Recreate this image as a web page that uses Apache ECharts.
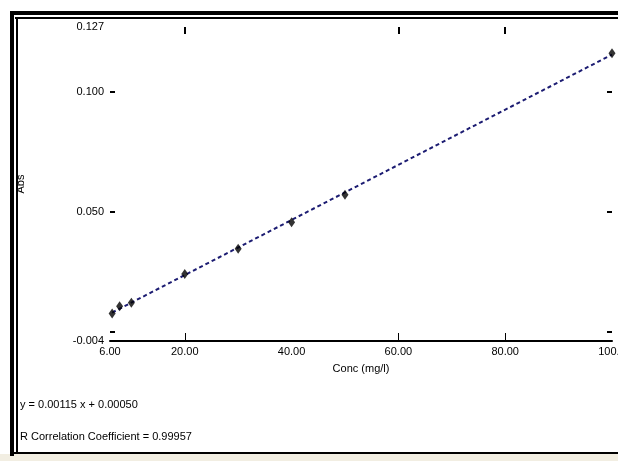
<!DOCTYPE html>
<html>
<head>
<meta charset="utf-8">
<script src="https://cdn.jsdelivr.net/npm/echarts@6/dist/echarts.min.js"></script>
<style>
html,body{margin:0;padding:0;background:#fff;}
#c{width:618px;height:461px;}
</style>
</head>
<body>
<div id="c"></div>
<script>
// Calibration standards
const concValues = [6.4, 7.8, 10, 20, 30, 40, 50, 100];
const absValues = [0.0075, 0.0105, 0.0120, 0.0240, 0.0345, 0.0455, 0.0570, 0.1160];
// Regression
const slope = 0.00115;
const intercept = 0.0005;
const correlation = 0.99957;
// Axis labels
const xTickLabels = [6, 20, 40, 60, 80, 100];
const xTickMarks = [20, 60, 80];
const yTickLabels = [-0.004, 0.05, 0.1, 0.127];
const yTickMarks = [0, 0.05, 0.1];
const xRange = [6, 100];
const yRange = [-0.004, 0.127];

const points = concValues.map((x, i) => [x, absValues[i]]);
const fitX = [concValues[0], concValues[concValues.length - 1]];
const fitLine = fitX.map(x => [x, slope * x + intercept]);

const font = 'Liberation Sans, Arial, sans-serif';
const chart = echarts.init(document.getElementById('c'), null, {renderer: 'canvas'});
chart.setOption({
  backgroundColor: '#ffffff',
  animation: false,
  grid: {left: 110, right: 6, top: 27, bottom: 120, containLabel: false, outerBoundsMode: 'none'},
  xAxis: [{
    type: 'value', min: xRange[0], max: xRange[1], position: 'bottom',
    axisLine: {show: true, onZero: false, lineStyle: {color: '#000', width: 2}},
    axisTick: {show: true, inside: true, length: 8, customValues: xTickMarks, lineStyle: {color: '#000', width: 1}},
    axisLabel: {customValues: xTickLabels, color: '#000', fontSize: 11, fontFamily: font, margin: 5,
      formatter: v => v >= 100 ? v.toFixed(1) : v.toFixed(2)},
    splitLine: {show: false},
    name: 'Conc (mg/l)', nameLocation: 'middle', nameGap: 22,
    nameTextStyle: {color: '#000', fontSize: 11, fontFamily: font}
  }, {
    type: 'value', min: xRange[0], max: xRange[1], position: 'top',
    axisLine: {show: true, onZero: false, lineStyle: {color: 'rgba(0,0,0,0)'}},
    axisTick: {show: true, inside: true, length: 7, customValues: xTickMarks, lineStyle: {color: '#000', width: 2}},
    axisLabel: {show: true, customValues: xTickMarks, color: 'rgba(0,0,0,0)'}, splitLine: {show: false}
  }],
  yAxis: [{
    type: 'value', min: yRange[0], max: yRange[1], position: 'left',
    axisLine: {show: false, onZero: false},
    axisTick: {show: true, inside: true, length: 5, customValues: yTickMarks, lineStyle: {color: '#000', width: 2}},
    axisLabel: {customValues: yTickLabels, color: '#000', fontSize: 11, fontFamily: font, margin: 6,
      formatter: v => v.toFixed(3)},
    splitLine: {show: false},
    name: 'Abs', nameLocation: 'middle', nameGap: 84, nameRotate: 90,
    nameTextStyle: {color: '#000', fontSize: 11, fontFamily: font}
  }, {
    type: 'value', min: yRange[0], max: yRange[1], position: 'right',
    axisLine: {show: true, onZero: false, lineStyle: {color: 'rgba(0,0,0,0)'}},
    axisTick: {show: true, inside: true, length: 5, customValues: yTickMarks, lineStyle: {color: '#000', width: 2}},
    axisLabel: {show: true, customValues: yTickMarks, color: 'rgba(0,0,0,0)'}, splitLine: {show: false}
  }],
  series: [{
    type: 'line', data: fitLine, xAxisIndex: 0, yAxisIndex: 0,
    symbol: 'none', lineStyle: {color: '#1c1c72', width: 2, type: [4, 3]}, z: 2
  }, {
    type: 'scatter', data: points, xAxisIndex: 0, yAxisIndex: 0,
    symbol: 'diamond', symbolSize: [7, 10], itemStyle: {color: '#000'}, z: 3
  }],
  graphic: [
    {type: 'rect', shape: {x: 0, y: 454, width: 618, height: 7}, style: {fill: '#f2eee2'}, silent: true},
    {type: 'rect', shape: {x: 10, y: 11, width: 608, height: 4}, style: {fill: '#000'}},
    {type: 'rect', shape: {x: 15, y: 17, width: 603, height: 2}, style: {fill: '#000'}},
    {type: 'rect', shape: {x: 10, y: 11, width: 4, height: 445}, style: {fill: '#000'}},
    {type: 'rect', shape: {x: 16, y: 17, width: 2, height: 437}, style: {fill: '#000'}},
    {type: 'rect', shape: {x: 10, y: 452, width: 608, height: 2}, style: {fill: '#000'}},
    {type: 'text', left: 20, top: 399, style: {
      text: 'y = ' + slope.toFixed(5) + ' x + ' + intercept.toFixed(5),
      fill: '#000', font: '11px ' + font}},
    {type: 'text', left: 20, top: 431, style: {
      text: 'R Correlation Coefficient = ' + correlation.toFixed(5),
      fill: '#000', font: '11px ' + font}}
  ]
});
</script>
</body>
</html>
